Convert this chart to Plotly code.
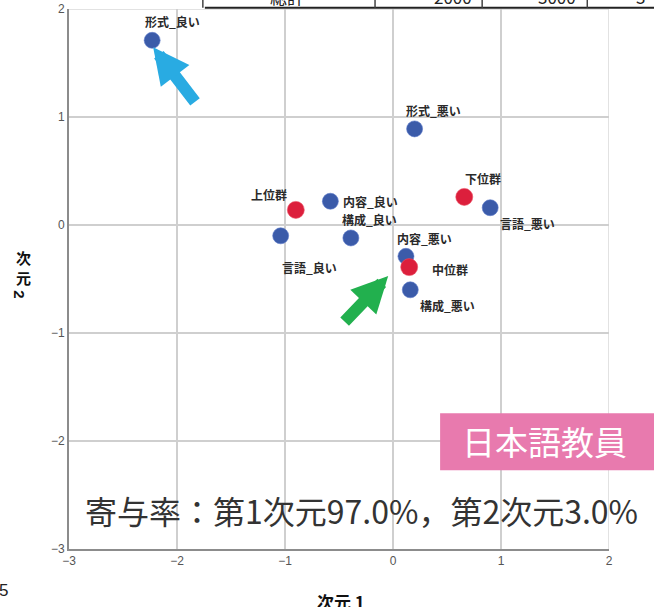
import plotly.graph_objects as go

# ---------------- data ----------------
cat_labels = ["形式_良い", "形式_悪い", "内容_良い", "内容_悪い", "構成_良い", "構成_悪い", "言語_良い", "言語_悪い"]
cat_dim1 = [-2.23, 0.20, -0.58, 0.12, -0.39, 0.16, -1.04, 0.90]
cat_dim2 = [1.71, 0.89, 0.22, -0.29, -0.12, -0.60, -0.10, 0.16]

grp_labels = ["上位群", "中位群", "下位群"]
grp_dim1 = [-0.90, 0.15, 0.66]
grp_dim2 = [0.14, -0.39, 0.26]

tick_vals = [-3, -2, -1, 0, 1, 2]
table_texts = ["総計", "2000", "3000", "3"]

# label offsets in pixels (dx, dy screen-down)
cat_offsets = [(20, -19), (19, -18), (40, 0), (19, -18), (19, -18), (37, 16), (29, 32), (37, 16)]
grp_offsets = [(-27, -15), (41, 2), (19, -18)]

BLUE = "#3b5ba9"
RED = "#dc1f3c"
LABEL_FONT = dict(family="Noto Sans CJK JP", size=12, color="#2a2a2a", weight=600)

fig = go.Figure()
fig.add_trace(go.Scatter(x=cat_dim1, y=cat_dim2, mode="markers",
                         marker=dict(size=16, color=BLUE, line=dict(width=1, color="rgba(90,120,200,0.6)")),
                         showlegend=False, hoverinfo="skip"))
fig.add_trace(go.Scatter(x=grp_dim1, y=grp_dim2, mode="markers",
                         marker=dict(size=17, color=RED, line=dict(width=1, color="rgba(235,80,100,0.6)")),
                         showlegend=False, hoverinfo="skip"))

annotations = []
for lab, xv, yv, (dx, dy) in zip(cat_labels, cat_dim1, cat_dim2, cat_offsets):
    annotations.append(dict(x=xv, y=yv, text=lab, showarrow=False, xshift=dx, yshift=-dy,
                            font=LABEL_FONT, xanchor="center", yanchor="middle"))
for lab, xv, yv, (dx, dy) in zip(grp_labels, grp_dim1, grp_dim2, grp_offsets):
    annotations.append(dict(x=xv, y=yv, text=lab, showarrow=False, xshift=dx, yshift=-dy,
                            font=LABEL_FONT, xanchor="center", yanchor="middle"))

# arrows
annotations.append(dict(x=cat_dim1[0], y=cat_dim2[0], xshift=1, yshift=-7, ax=43, ay=56,
                        showarrow=True, arrowhead=2, arrowsize=0.6, arrowwidth=12,
                        arrowcolor="#29abe2", text=""))
annotations.append(dict(x=grp_dim1[1], y=grp_dim2[1], xshift=-21, yshift=-9, ax=-45, ay=47,
                        showarrow=True, arrowhead=2, arrowsize=0.6, arrowwidth=12,
                        arrowcolor="#22b04e", text=""))

def px_x(p):
    return (p - 69.3) / 539.4

def px_y(p):
    return (548.7 - p) / 539.4

# axis titles (vertical CJK stack, rotated digit)
YT_FONT = dict(family="Noto Sans CJK JP", size=15, color="#111", weight=700)
annotations.append(dict(xref="paper", yref="paper", x=px_x(24), y=px_y(268), text="次<br>元",
                        showarrow=False, font=YT_FONT, xanchor="center", yanchor="middle"))
annotations.append(dict(xref="paper", yref="paper", x=px_x(24), y=px_y(291), text="2", textangle=90,
                        showarrow=False, font=dict(family="Liberation Sans", size=15, color="#111", weight=700),
                        xanchor="center", yanchor="middle", xshift=-4, yshift=-3))
annotations.append(dict(xref="paper", yref="paper", x=px_x(341), y=px_y(601), text="次元 1",
                        showarrow=False, font=dict(family="Noto Sans CJK JP", size=17, color="#111", weight=700),
                        xanchor="center", yanchor="middle"))
annotations.append(dict(xref="paper", yref="paper", x=px_x(4), y=px_y(590), text="5",
                        showarrow=False, font=dict(family="Liberation Sans", size=17, color="#222"),
                        xanchor="center", yanchor="middle"))

# contribution text
annotations.append(dict(xref="paper", yref="paper", x=px_x(361), y=px_y(510),
                        text="寄与率：第1次元97.0%，第2次元3.0%",
                        showarrow=False, font=dict(family="Noto Sans CJK JP", size=32, color="#333"),
                        xanchor="center", yanchor="middle"))

# pink badge
annotations.append(dict(xref="paper", yref="paper", x=px_x(544), y=px_y(441), text="日本語教員",
                        showarrow=False, font=dict(family="Noto Sans CJK JP", size=33, color="white"),
                        xanchor="center", yanchor="middle"))

# clipped table texts at the top
for t, cx in zip(table_texts, [287, 453, 557, 640]):
    annotations.append(dict(xref="paper", yref="paper", x=px_x(cx), y=px_y(7), text=t,
                            showarrow=False, font=dict(family="Noto Sans CJK JP", size=17, color="#222"),
                            xanchor="center", yanchor="bottom", yshift=-4))

shapes = [
    dict(type="rect", xref="paper", yref="paper", x0=px_x(440), x1=px_x(660), y0=px_y(470), y1=px_y(413),
         fillcolor="#e87aae", line=dict(width=0), layer="above"),
    dict(type="line", xref="paper", yref="paper", x0=px_x(205), x1=px_x(660), y0=px_y(8), y1=px_y(8),
         line=dict(color="#222", width=2)),
]
for vx in [203, 375, 482, 587]:
    shapes.append(dict(type="line", xref="paper", yref="paper", x0=px_x(vx), x1=px_x(vx), y0=px_y(8), y1=px_y(-5),
                       line=dict(color="#444", width=1.5)))

axis_common = dict(range=[-3, 2], tickvals=tick_vals, showgrid=True, gridcolor="#cfcfcf", gridwidth=1.5,
                   zeroline=False, showline=True, linecolor="#8c8c8c", linewidth=2, ticks="",
                   tickfont=dict(family="Liberation Sans", size=12, color="#555"))

fig.update_layout(
    width=654, height=607,
    margin=dict(l=69, r=45, t=9, b=58, autoexpand=False),
    paper_bgcolor="white", plot_bgcolor="white",
    xaxis=dict(**axis_common, mirror=False),
    yaxis=dict(**axis_common, mirror=False),
    annotations=annotations, shapes=shapes,
    showlegend=False,
)
# outer gridlines at top/right
fig.add_shape(type="line", xref="x", yref="y", x0=2, x1=2, y0=-3, y1=2, line=dict(color="#d8d8d8", width=1.5), layer="below")
fig.add_shape(type="line", xref="x", yref="y", x0=-3, x1=2, y0=2, y1=2, line=dict(color="#d8d8d8", width=1.5), layer="below")

fig.write_html("out.html", config={"displayModeBar": False},
               post_script="document.body.style.margin='0px';document.body.style.overflow='hidden';")
